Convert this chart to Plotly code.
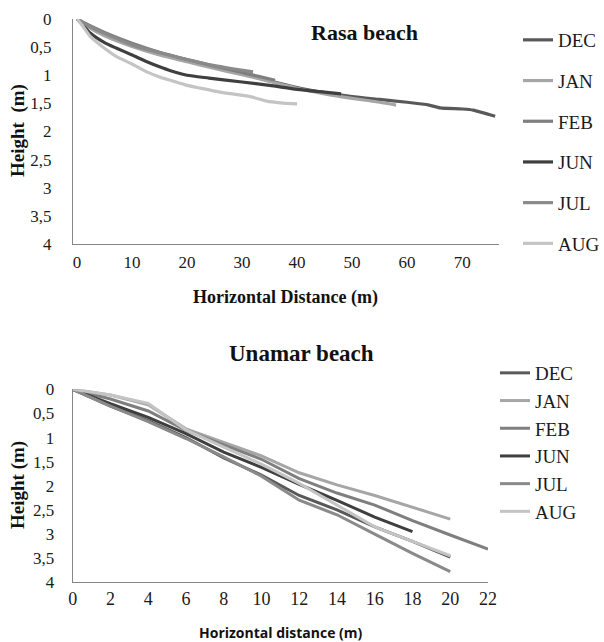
import plotly.graph_objects as go

# ---------------- Data: Rasa beach ----------------
months = ["DEC", "JAN", "FEB", "JUN", "JUL", "AUG"]

rasa_dec_x = [0, 2, 5, 10, 15, 20, 25, 30, 35, 40, 45, 50, 55, 60, 64, 66, 70, 72, 76]
rasa_dec_y = [0, 0.12, 0.26, 0.45, 0.6, 0.73, 0.85, 0.97, 1.1, 1.22, 1.31, 1.38, 1.43, 1.48, 1.53, 1.58, 1.6, 1.62, 1.73]
rasa_jan_x = [0, 2, 5, 10, 15, 20, 25, 30, 35, 40, 45, 50, 55, 58]
rasa_jan_y = [0, 0.14, 0.3, 0.49, 0.64, 0.76, 0.88, 0.99, 1.11, 1.23, 1.33, 1.41, 1.48, 1.53]
rasa_feb_x = [0, 2, 6, 10, 15, 20, 25, 30, 33, 36]
rasa_feb_y = [0, 0.1, 0.28, 0.43, 0.59, 0.72, 0.84, 0.95, 1.02, 1.09]
rasa_jun_x = [0, 1, 2.4, 5, 7.2, 10, 12.7, 15, 17, 20, 24, 30, 35, 40, 45, 48]
rasa_jun_y = [0, 0.1, 0.25, 0.42, 0.52, 0.64, 0.76, 0.85, 0.92, 1.0, 1.05, 1.12, 1.18, 1.25, 1.3, 1.33]
rasa_jul_x = [0, 2, 6, 10, 15, 20, 25, 28, 32]
rasa_jul_y = [0, 0.12, 0.3, 0.46, 0.6, 0.72, 0.83, 0.88, 0.94]
rasa_aug_x = [0, 1, 2.4, 5, 7.2, 10, 12.7, 15, 17, 20, 22.4, 26, 31.5, 34.5, 37, 40]
rasa_aug_y = [0, 0.12, 0.31, 0.52, 0.67, 0.8, 0.94, 1.03, 1.09, 1.18, 1.23, 1.3, 1.38, 1.46, 1.49, 1.51]

# ---------------- Data: Unamar beach ----------------
una_x20 = [0, 2, 4, 6, 8, 10, 12, 14, 16, 18, 20]
una_x22 = [0, 2, 4, 6, 8, 10, 12, 14, 16, 18, 20, 22]
una_x18 = [0, 2, 4, 6, 8, 10, 12, 14, 16, 18]
una_dec_y = [0, 0.35, 0.65, 1.0, 1.42, 1.78, 2.2, 2.5, 2.85, 3.15, 3.48]
una_jan_y = [0, 0.12, 0.32, 0.82, 1.1, 1.38, 1.73, 1.98, 2.2, 2.45, 2.69]
una_feb_y = [0, 0.2, 0.45, 0.85, 1.15, 1.45, 1.85, 2.15, 2.4, 2.72, 3.02, 3.31]
una_jun_y = [0, 0.3, 0.58, 0.92, 1.3, 1.62, 1.97, 2.3, 2.65, 2.95]
una_jul_y = [0, 0.35, 0.67, 1.02, 1.4, 1.8, 2.3, 2.6, 3.0, 3.4, 3.78]
una_aug_y = [0, 0.12, 0.29, 0.84, 1.2, 1.55, 1.95, 2.4, 2.85, 3.15, 3.45]

y_tickvals = [0, 0.5, 1, 1.5, 2, 2.5, 3, 3.5, 4]
y_ticktext = ["0", "0,5", "1", "1,5", "2", "2,5", "3", "3,5", "4"]
rasa_xticks = [0, 10, 20, 30, 40, 50, 60, 70]
una_xticks = [0, 2, 4, 6, 8, 10, 12, 14, 16, 18, 20, 22]

colors = {"DEC": "#595959", "JAN": "#a6a6a6", "FEB": "#7f7f7f",
          "JUN": "#3f3f3f", "JUL": "#8a8a8a", "AUG": "#c4c4c4"}

rasa = {"DEC": (rasa_dec_x, rasa_dec_y), "JAN": (rasa_jan_x, rasa_jan_y),
        "FEB": (rasa_feb_x, rasa_feb_y), "JUN": (rasa_jun_x, rasa_jun_y),
        "JUL": (rasa_jul_x, rasa_jul_y), "AUG": (rasa_aug_x, rasa_aug_y)}
unamar = {"DEC": (una_x20, una_dec_y), "JAN": (una_x20, una_jan_y),
          "FEB": (una_x22, una_feb_y), "JUN": (una_x18, una_jun_y),
          "JUL": (una_x20, una_jul_y), "AUG": (una_x20, una_aug_y)}

W, H = 604, 642
SERIF = "Liberation Serif"
CLEAR = "rgba(0,0,0,0)"

fig = go.Figure()
for m in months:
    x, y = rasa[m]
    fig.add_trace(go.Scatter(x=x, y=y, mode="lines", name=m,
                             line=dict(color=colors[m], width=3.2, shape="spline", smoothing=0.6),
                             xaxis="x", yaxis="y", legend="legend", legendgroup="r" + m))
for m in months:
    x, y = unamar[m]
    fig.add_trace(go.Scatter(x=x, y=y, mode="lines", name=m,
                             line=dict(color=colors[m], width=3),
                             xaxis="x2", yaxis="y2", legend="legend2", legendgroup="u" + m))

axis_col = "#868686"
tickfont = dict(family=SERIF, size=17, color="#1a1a1a")

def px(v):
    return v / W

def py(v):
    return 1 - v / H

common = dict(showgrid=False, zeroline=False, showline=True, linecolor=axis_col,
              linewidth=1, automargin=False)

top_y_dom = [py(244), py(19)]

fig.update_layout(
    width=W, height=H,
    margin=dict(l=0, r=0, t=0, b=0, autoexpand=False),
    paper_bgcolor="white", plot_bgcolor="white",
    showlegend=True,
    xaxis=dict(domain=[px(73), px(499)], range=[-0.73, 76.7], anchor="y",
               tickvals=rasa_xticks, ticks="outside", ticklen=3, tickcolor=CLEAR,
               tickfont=tickfont, **common),
    yaxis=dict(domain=top_y_dom, range=[4, 0], anchor="x",
               tickvals=y_tickvals, ticktext=y_ticktext, ticks="outside",
               ticklen=17, tickcolor=CLEAR, tickfont=tickfont, **common),
    # overlay axis that only draws the short visible tick marks of the Rasa height axis
    yaxis3=dict(domain=top_y_dom, range=[4, 0], anchor="x", overlaying="y", side="left",
                tickvals=y_tickvals, showticklabels=False, ticks="outside", ticklen=5,
                tickcolor=axis_col, showgrid=False, zeroline=False, showline=False,
                automargin=False),
    xaxis2=dict(domain=[px(72.7), px(488)], range=[0, 22], anchor="y2",
                tickvals=una_xticks, ticks="",
                tickfont=dict(family=SERIF, size=18, color="#1a1a1a"), **common),
    yaxis2=dict(domain=[py(582.3), py(389.3)], range=[4, 0], anchor="x2",
                tickvals=y_tickvals, ticktext=y_ticktext, ticks="outside",
                ticklen=14, tickcolor=CLEAR, tickfont=tickfont, **common),
    legend=dict(x=px(518), y=py(21), xanchor="left", yanchor="top",
                font=dict(family=SERIF, size=19, color="#1a1a1a"),
                tracegroupgap=13, traceorder="grouped", bgcolor=CLEAR),
    legend2=dict(x=px(495), y=py(354), xanchor="left", yanchor="top",
                 font=dict(family=SERIF, size=19, color="#1a1a1a"),
                 tracegroupgap=0, traceorder="grouped", bgcolor=CLEAR),
)

annots = [
    dict(text="<b>Rasa beach</b>", x=px(364), y=py(32), font=dict(family=SERIF, size=22, color="#111")),
    dict(text="<b>Unamar beach</b>", x=px(301), y=py(353), font=dict(family=SERIF, size=23, color="#111")),
    dict(text="<b>Horizontal Distance (m)</b>", x=px(285), y=py(297), font=dict(family=SERIF, size=18, color="#111")),
    dict(text="<b>Height  (m)</b>", x=px(18), y=py(131), textangle=-90, font=dict(family=SERIF, size=19, color="#111")),
    dict(text="<b>Height (m)</b>", x=px(18), y=py(485), textangle=-90, font=dict(family=SERIF, size=19, color="#111")),
    dict(text="<b>Horizontal distance (m)</b>", x=px(281), y=py(632), font=dict(family="Open Sans", size=14, color="#111")),
]
for a in annots:
    a.update(xref="paper", yref="paper", showarrow=False, xanchor="center", yanchor="middle")
fig.update_layout(annotations=annots)

fig.write_html("out.html", config={"displayModeBar": False},
               post_script="document.body.style.margin='0';document.body.style.padding='0';")
